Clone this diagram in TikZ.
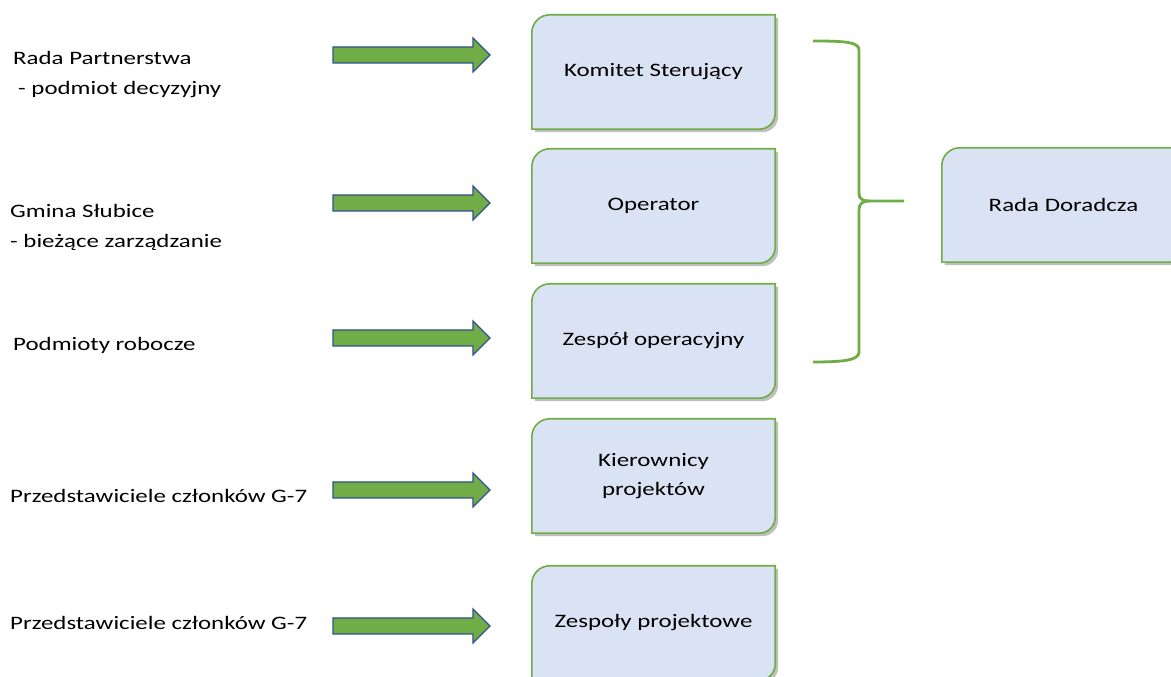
\documentclass[tikz,border=0pt]{standalone}
\usepackage{fontspec}
\setmainfont{Carlito}[FakeStretch=1.31]
\usetikzlibrary{calc,backgrounds}
\definecolor{gr}{HTML}{70AD47}
\definecolor{bf}{HTML}{DAE3F3}
\definecolor{ab}{HTML}{2F528F}
\newcommand\snipbox[1]{%
  \begin{scope}[on background layer]
  \fill[black,opacity=0.25] ($(#1.north west)+(3,-21)$) arc[start angle=180,end angle=90,radius=18] -- ($(#1.north east)+(3,-3)$) -- ($(#1.south east)+(3,13)$) arc[start angle=0,end angle=-90,radius=16] -- ($(#1.south west)+(3,-3)$) -- cycle;
  \draw[gr,line width=1.6pt,fill=bf] ($(#1.north west)+(0,-18)$) arc[start angle=180,end angle=90,radius=18] -- (#1.north east) -- ($(#1.south east)+(0,16)$) arc[start angle=0,end angle=-90,radius=16] -- (#1.south west) -- cycle;
  \end{scope}}
\newcommand\garrow[2]{%
  \coordinate (#1) at (333,#2);
  \draw[ab,fill=gr,line width=1.2pt] ($(#1)+(0,8)$) -- ($(#1)+(140,8)$) -- ($(#1)+(140,17)$) -- ($(#1)+(157,0)$) -- ($(#1)+(140,-17)$) -- ($(#1)+(140,-8)$) -- ($(#1)+(0,-8)$) -- cycle;}
\begin{document}
\begin{tikzpicture}[x=1pt,y=1pt,
  box/.style={minimum width=243,minimum height=114,inner sep=0,align=center,font=\fontsize{19}{29}\selectfont},
  lbl/.style={inner sep=0,align=left,font=\fontsize{19}{30}\selectfont}]
\useasboundingbox (0,0) rectangle (1171,677);
\node[box] (k1) at (653.5,605) {Komitet Sterujący};
\node[box] (k2) at (653.5,471) {Operator};
\node[box] (k3) at (653.5,336) {Zespół operacyjny};
\node[box] (k4) at (653.5,201) {Kierownicy\\projektów};
\node[box] (k5) at (653.5,54) {Zespoły projektowe};
\node[box] (rd) at (1063.5,472) {Rada Doradcza};
\snipbox{k1}\snipbox{k2}\snipbox{k3}\snipbox{k4}\snipbox{k5}\snipbox{rd}
\garrow{a1}{622}
\garrow{a2}{474}
\garrow{a3}{339}
\garrow{a4}{187}
\garrow{a5}{51}
\node[lbl,anchor=west] (l1) at (13,602) {Rada Partnerstwa\\\hspace{5pt}- podmiot decyzyjny};
\node[lbl,anchor=west] (l2) at (10,450) {Gmina Słubice\\- bieżące zarządzanie};
\node[lbl,anchor=base west] (l3) at (13,326) {Podmioty robocze};
\node[lbl,anchor=base west] (l4) at (10,174) {Przedstawiciele członków G-7};
\node[lbl,anchor=base west] (l5) at (10,47) {Przedstawiciele członków G-7};
\coordinate (bt) at (813,636);
\coordinate (bb) at (813,315);
\coordinate (tip) at (904,476);
\draw[gr,line width=2.8pt] (bt) .. controls (845,636) and (859,635) .. (859,627) -- (859,484) .. controls (859,478) and (862,476) .. (870,476) -- (tip);
\draw[gr,line width=2.8pt] (870,476) .. controls (862,476) and (859,473) .. (859,467) -- (859,325) .. controls (859,317) and (845,315) .. (bb);
\end{tikzpicture}
\end{document}
